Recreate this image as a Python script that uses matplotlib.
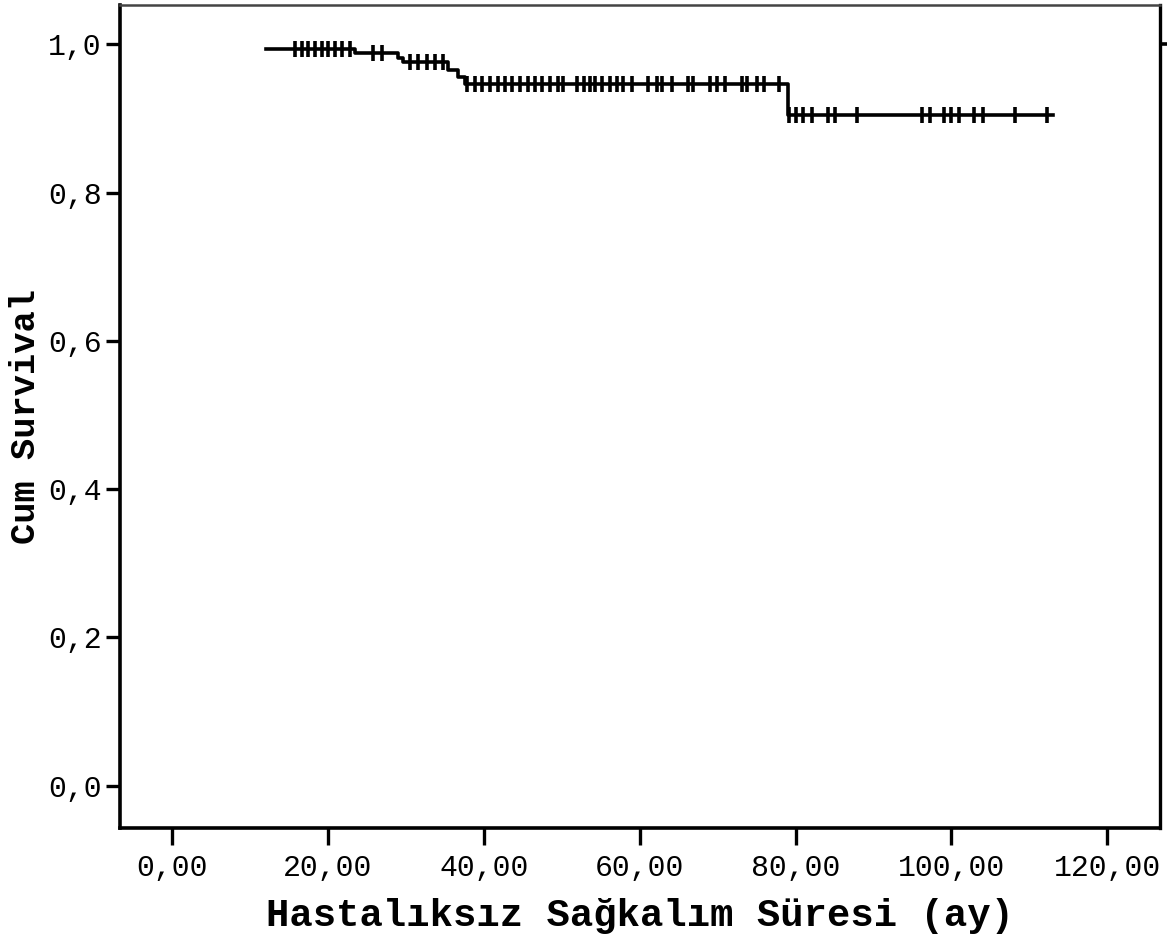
import numpy as np
import matplotlib.pyplot as plt

# Kaplan-Meier steps (months, cumulative survival)
step_times = [12.0, 23.5, 29.0, 29.6, 35.4, 36.7, 37.6, 79.0, 113.0]
step_surv = [0.993, 0.988, 0.981, 0.976, 0.965, 0.956, 0.946, 0.905, 0.905]

# censored cases (months)
censored = [15.8, 16.7, 17.4, 18.3, 19.2, 20.0, 20.9, 21.8, 22.8,
            25.8, 26.9,
            30.5, 31.5, 32.7, 33.7, 34.7,
            37.8, 38.8, 39.7, 40.8, 41.8, 42.7, 43.6, 44.6, 45.6, 46.5, 47.4, 48.5, 49.5,
            50.1, 51.9, 52.9, 53.6, 54.2, 55.1, 56.2, 57.1, 57.8, 59.0, 61.0, 62.2,
            62.9, 64.1, 66.2, 66.8, 69.0, 69.9, 70.9, 73.1, 73.8, 75.0, 76.0, 77.9,
            79.2, 80.1, 80.9, 82.1, 84.1, 85.0, 87.9, 96.2, 97.2, 99.1, 100.0, 101.0,
            102.9, 104.0, 108.1, 112.2]

xticks = [0, 20, 40, 60, 80, 100, 120]
xtick_labels = ["0,00", "20,00", "40,00", "60,00", "80,00", "100,00", "120,00"]
yticks = [0.0, 0.2, 0.4, 0.6, 0.8, 1.0]
ytick_labels = ["0,0", "0,2", "0,4", "0,6", "0,8", "1,0"]

tick_font = "Liberation Mono"
label_font = "Liberation Mono"

fig = plt.figure(figsize=(11.76, 9.38), dpi=100)
ax = fig.add_axes([0.102, 0.1173, 0.884, 0.8774])

ax.step(step_times, step_surv, where="post", color="black", lw=2.6)

# survival at each censored time from the step function
idx = np.searchsorted(step_times, censored, side="right") - 1
cens_surv = np.array(step_surv)[idx]
ax.plot(censored, cens_surv, ls="none", marker="|", ms=11, mew=2.6, color="black")

ax.set_xlim(-6.7, 126.7)
ax.set_ylim(-0.057, 1.053)

ax.set_xticks(xticks)
ax.set_xticklabels(xtick_labels, fontfamily=tick_font, fontsize=21.5)
ax.set_yticks(yticks)
ax.set_yticklabels(ytick_labels, fontfamily=tick_font, fontsize=21.5)
ax.tick_params(axis="x", direction="out", length=12, width=2.4, pad=7)
ax.tick_params(axis="y", direction="out", length=10, width=2.4, pad=3)

for side in ["left", "bottom"]:
    ax.spines[side].set_linewidth(2.6)
ax.spines["right"].set_linewidth(2.4)
ax.spines["top"].set_linewidth(1.8)
ax.spines["top"].set_color("#444444")

# small tick at 1,0 on the right side
sec = ax.secondary_yaxis("right")
sec.set_yticks([1.0])
sec.set_yticklabels([""])
sec.tick_params(length=5, width=2.6)
sec.spines["right"].set_visible(False)

ax.set_xlabel("Hastalıksız Sağkalım Süresi (ay)", fontfamily=label_font,
              fontweight="bold", fontsize=28)
ax.xaxis.set_label_coords(0.5, -0.107)
ax.xaxis.label.set_va("center")
ax.set_ylabel("Cum Survival", fontfamily=label_font, fontweight="bold", fontsize=25.5)
ax.yaxis.set_label_coords(-0.091, 0.5)
ax.yaxis.label.set_ha("center")
ax.yaxis.label.set_va("center")

fig.savefig("out.png", dpi=100)
